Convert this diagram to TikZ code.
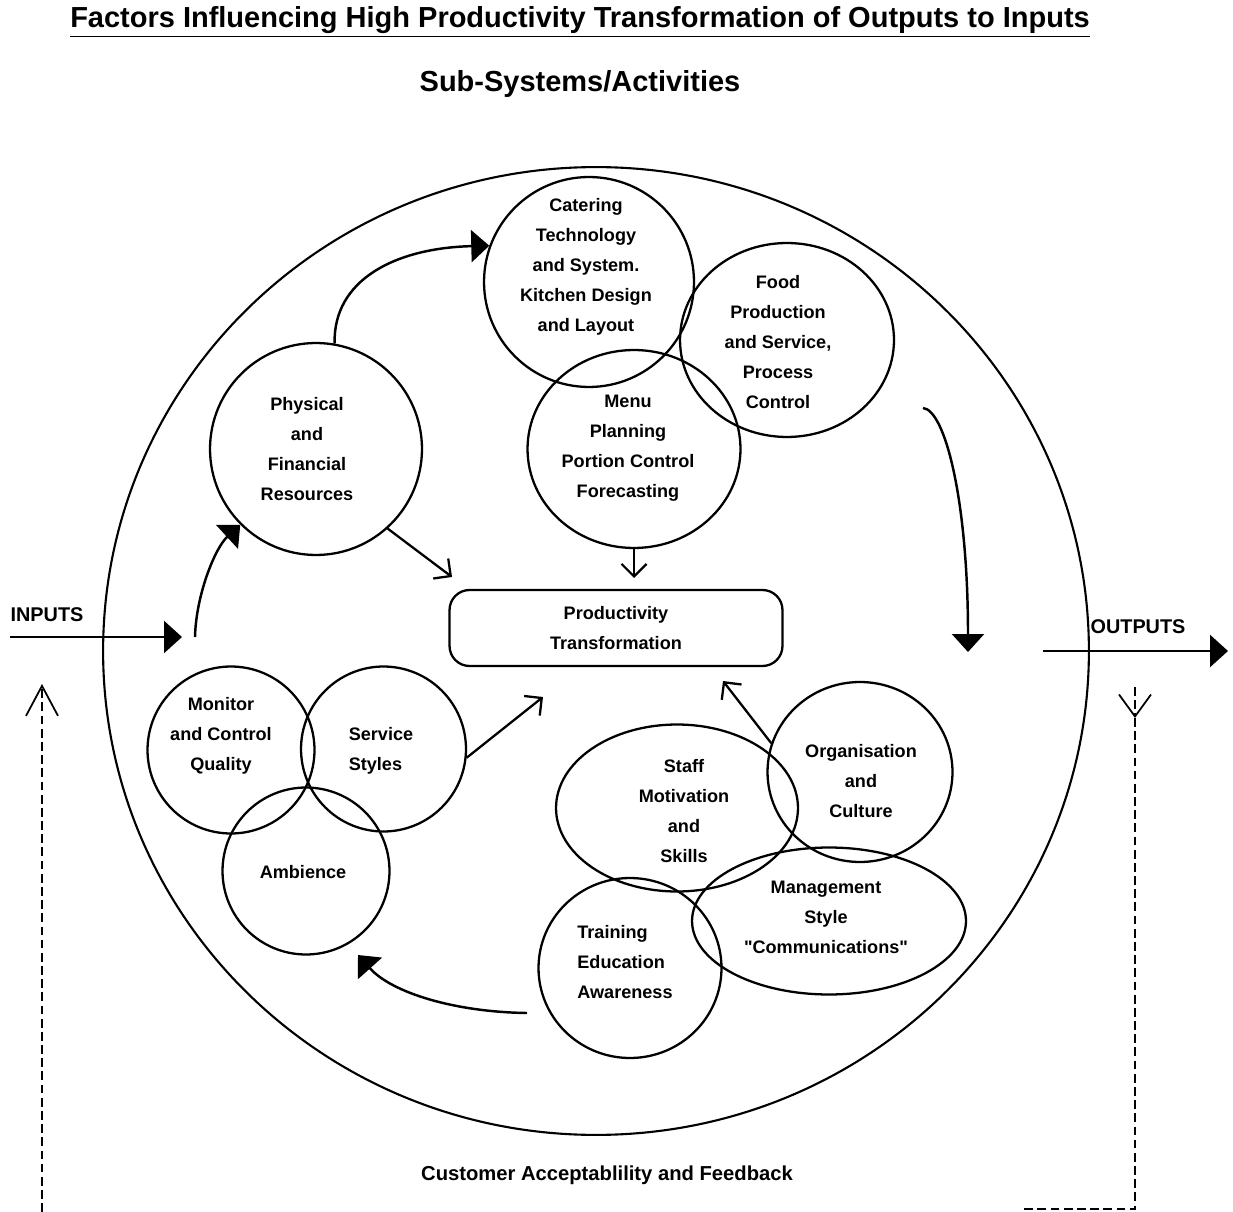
\documentclass[tikz,border=0pt]{standalone}
\usepackage{fontspec}
\setmainfont{Liberation Sans}
\usepackage{tikz}
\usetikzlibrary{arrows.meta,shapes.geometric}

\begin{document}
\begin{tikzpicture}[
  x=0.02cm, y=-0.02cm,
  ring/.style={draw, circle, line width=1.3pt, inner sep=0pt},
  oval/.style={draw, ellipse, line width=1.3pt, inner sep=0pt},
  lbl/.style={font=\fontsize{10.3}{17.1}\selectfont\bfseries, align=center, inner sep=0pt},
  head/.style={font=\fontsize{16.5}{20}\selectfont\bfseries},
  io/.style={font=\fontsize{11.3}{14}\selectfont\bfseries, inner sep=0pt},
  big/.style={-{Triangle[length=0.36cm, width=0.64cm]}, line width=1.4pt},
  arr/.style={-{Straight Barb[length=0.25cm, width=0.5cm]}, line width=1.3pt},
  fb/.style={line width=0.9pt, dash pattern=on 5pt off 2.5pt},
]
  \useasboundingbox (0,0) rectangle (1233,1212);

  % headings
  \node[head] (title) at (580,22) {\underline{Factors Influencing High Productivity Transformation of Outputs to Inputs}};
  \node[head] (subtitle) at (580,84) {Sub-Systems/Activities};

  % the system boundary
  \node[draw, ellipse, line width=1.2pt, minimum width=19.72cm, minimum height=19.36cm, inner sep=0pt] (sys) at (596,651) {};

  % top group
  \node[ring, minimum size=4.2cm] (cater) at (589,282) {};
  \node[oval, minimum width=4.28cm, minimum height=3.88cm] (food) at (787,340) {};
  \node[oval, minimum width=4.26cm, minimum height=3.96cm] (menu) at (634,449) {};
  \node[ring, minimum size=4.24cm] (phys) at (316,449) {};

  \node[lbl] (cater-t) at (586,267) {Catering\\Technology\\and System.\\Kitchen Design\\and Layout};
  \node[lbl] (food-t) at (778,342) {Food\\Production\\and Service,\\Process\\Control};
  \node[lbl] (menu-t) at (628,448) {Menu\\Planning\\Portion Control\\Forecasting};
  \node[lbl] (phys-t) at (307,449) {Physical\\and\\Financial\\Resources};

  % centre
  \node[draw, rounded corners=0.4cm, line width=1.3pt, minimum width=6.66cm, minimum height=1.52cm,
        font=\fontsize{10.3}{17.1}\selectfont\bfseries, align=center] (prod) at (616,628) {Productivity\\Transformation};

  % left group
  \node[ring, minimum size=3.34cm] (mon) at (231,750) {};
  \node[ring, minimum size=3.3cm] (serv) at (383.5,749) {};
  \node[ring, minimum size=3.34cm] (amb) at (306,871) {};

  \node[lbl] (mon-t) at (221,736) {Monitor\\and Control\\Quality};
  \node[lbl, align=left] (serv-t) at (381,751) {Service\\Styles};
  \node[lbl] (amb-t) at (303,872) {Ambience};

  % right group
  \node[oval, minimum width=4.84cm, minimum height=3.34cm] (staff) at (677,808) {};
  \node[oval, minimum width=3.7cm, minimum height=3.6cm] (org) at (860,772) {};
  \node[oval, minimum width=5.48cm, minimum height=2.94cm] (mgmt) at (829,921) {};
  \node[oval, minimum width=3.66cm, minimum height=3.6cm] (train) at (630,968) {};

  \node[lbl] (staff-t) at (684,811) {Staff\\Motivation\\and\\Skills};
  \node[lbl] (org-t) at (861,781) {Organisation\\and\\Culture};
  \node[lbl] (mgmt-t) at (826,917) {Management\\Style\\\textquotedbl Communications\textquotedbl};
  \node[lbl, align=left] (train-t) at (625,962) {Training\\Education\\Awareness};

  % inputs / outputs
  \node[io] (inputs) at (47,615) {INPUTS};
  \node[io] (outputs) at (1138,627) {OUTPUTS};
  \node[io, font=\fontsize{11.5}{14}\selectfont\bfseries] (feedback) at (607,1175) {Customer Acceptablility and Feedback};

  \coordinate (in-a) at (10,637);
  \coordinate (in-b) at (182,637);
  \coordinate (up-a) at (195,637);
  \coordinate (out-a) at (1043,651);
  \coordinate (out-b) at (1228,651);
  \coordinate (rc-a) at (923,408);
  \coordinate (rc-b) at (968,652);
  \coordinate (bc-a) at (527,1013);
  \coordinate (bc-b) at (358,955);
  \coordinate (tip-phys) at (452,577);
  \coordinate (tip-menu) at (634,578);
  \coordinate (tip-serv) at (543,697);
  \coordinate (tip-org) at (723,681);

  % flow round the system
  \draw[big] (in-a) -- (in-b);
  \draw[big] (up-a) .. controls (196,595) and (215,548) .. (phys.225);
  \draw[big] (phys.80) .. controls (333,280) and (395,248) .. (cater.160);
  \draw[big] (rc-a) .. controls (945,410) and (968,500) .. (rc-b);
  \draw[big] (bc-a) .. controls (455,1012) and (392,993) .. (bc-b);
  \draw[big] (out-a) -- (out-b);

  % into the transformation
  \draw[arr] (phys.-48) -- (tip-phys);
  \draw[arr] (menu.south) -- (tip-menu);
  \draw[arr] (serv.-6) -- (tip-serv);
  \draw[arr] (org.162) -- (tip-org);

  % feedback loop
  \coordinate (fb-l-bot) at (42,1212);
  \coordinate (fb-l-top) at (42,684);
  \coordinate (fb-r-top) at (1135,687);
  \coordinate (fb-r-mid) at (1135,718);
  \coordinate (fb-r-bot) at (1135,1209);
  \coordinate (fb-r-end) at (1022,1209);
  \draw[fb, -{Straight Barb[length=0.6cm, width=0.64cm, line width=1pt]}] (fb-l-bot) -- (fb-l-top);
  \draw[fb, -{Straight Barb[length=0.44cm, width=0.64cm, line width=1pt]}] (fb-r-top) -- (fb-r-mid);
  \draw[fb] (fb-r-mid) -- (fb-r-bot) -- (fb-r-end);
\end{tikzpicture}
\end{document}
